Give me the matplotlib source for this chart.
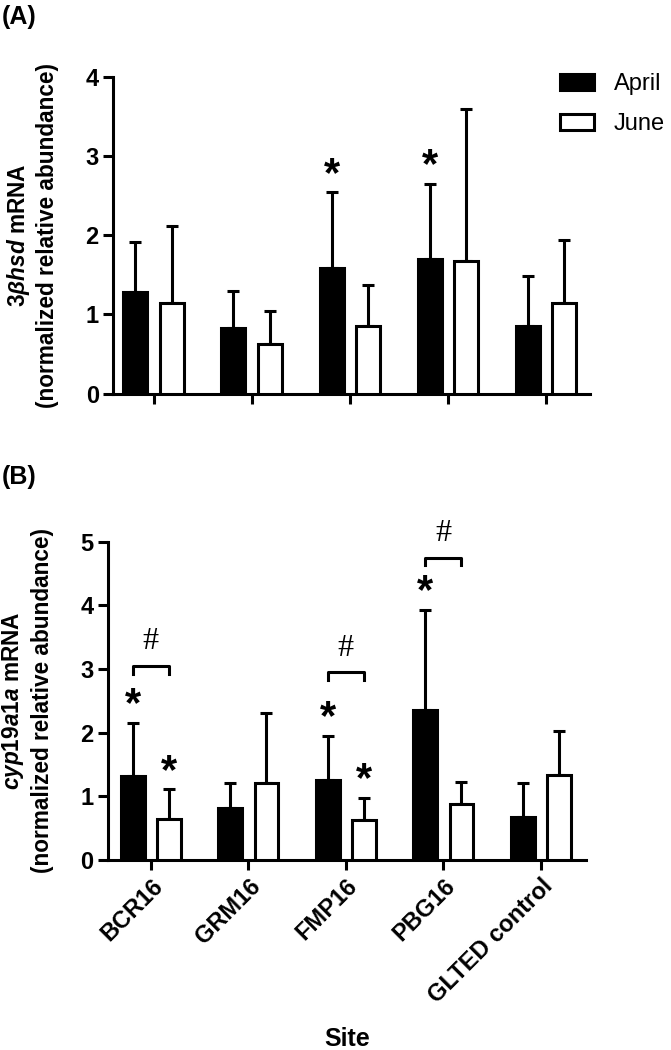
import matplotlib
matplotlib.use("Agg")
import matplotlib.pyplot as plt
import numpy as np

plt.rcParams['font.family'] = ['Liberation Sans', 'DejaVu Sans']
plt.rcParams['mathtext.fontset'] = 'custom'
plt.rcParams['mathtext.rm'] = 'Liberation Sans:bold'
plt.rcParams['mathtext.it'] = 'Liberation Sans:italic:bold'
plt.rcParams['mathtext.bf'] = 'Liberation Sans:bold'

sites = ['BCR16', 'GRM16', 'FMP16', 'PBG16', 'GLTED control']
series = ['April', 'June']

# panel A: 3bhsd
a_april = [1.28, 0.83, 1.58, 1.70, 0.85]
a_april_err = [0.63, 0.47, 0.96, 0.95, 0.64]
a_june = [1.15, 0.63, 0.86, 1.67, 1.15]
a_june_err = [0.96, 0.41, 0.51, 1.92, 0.79]
a_star_april = [False, False, True, True, False]
a_star_june = [False, False, False, False, False]

# panel B: cyp19a1a
b_april = [1.32, 0.81, 1.26, 2.35, 0.67]
b_april_err = [0.84, 0.40, 0.69, 1.58, 0.54]
b_june = [0.65, 1.21, 0.63, 0.875, 1.34]
b_june_err = [0.46, 1.10, 0.35, 0.355, 0.68]
b_star_april = [True, False, True, True, False]
b_star_june = [True, False, True, False, False]
b_hash_y = [3.05, None, 2.95, 4.75, None]

fig = plt.figure(figsize=(6.71, 10.5), dpi=100)
axA = fig.add_axes([0.169, 0.625, 0.710, 0.302])
axB = fig.add_axes([0.161, 0.181, 0.712, 0.303])

x = np.arange(len(sites))
off = 0.185
w = 0.245
lw = 2.2
fs = 17


def draw(ax, april, april_err, june, june_err, star_a, star_j, ymax):
    ekw = dict(elinewidth=lw, capthick=lw, ecolor='black')
    ax.bar(x - off, april, w, color='black', edgecolor='black', linewidth=lw,
           label=series[0], zorder=3)
    ax.errorbar(x - off, april, yerr=[np.zeros(len(x)), april_err], fmt='none',
                capsize=4.5, zorder=2, **ekw)
    ax.bar(x + off, june, w, color='white', edgecolor='black', linewidth=lw,
           label=series[1], zorder=3)
    ax.errorbar(x + off, june, yerr=[np.zeros(len(x)), june_err], fmt='none',
                capsize=4.5, zorder=2, **ekw)
    pad = 0.055 * ymax
    for i in range(len(x)):
        if star_a[i]:
            ax.text(x[i] - off, april[i] + april_err[i] + pad, '*', ha='center',
                    va='center', fontsize=30, fontweight='bold')
        if star_j[i]:
            ax.text(x[i] + off, june[i] + june_err[i] + pad, '*', ha='center',
                    va='center', fontsize=30, fontweight='bold')
    ax.set_ylim(0, ymax)
    ax.set_yticks(range(ymax + 1))
    for s in ['top', 'right']:
        ax.spines[s].set_visible(False)
    for s in ['left', 'bottom']:
        ax.spines[s].set_linewidth(lw)
    ax.tick_params(axis='both', width=lw, length=7, labelsize=fs)
    for t in ax.get_yticklabels():
        t.set_fontweight('bold')
    ax.set_xticks(x)


draw(axA, a_april, a_april_err, a_june, a_june_err, a_star_april, a_star_june, 4)
axA.set_xlim(-0.41, 4.45)
axA.set_xticklabels([])
axA.set_ylabel('$\\mathit{3βhsd}$ mRNA\n(normalized relative abundance)',
               fontsize=16.3, fontweight='bold', labelpad=19, linespacing=1.25)
axA.legend(loc='upper left', bbox_to_anchor=(0.937, 1.01), frameon=False,
           fontsize=17, handlelength=1.44, handleheight=0.68, labelspacing=0.75,
           handletextpad=0.85, borderaxespad=0, borderpad=0)

draw(axB, b_april, b_april_err, b_june, b_june_err, b_star_april, b_star_june, 5)
axB.set_xlim(-0.44, 4.46)
axB.set_xticklabels(sites, rotation=45, ha='right', rotation_mode='anchor',
                    fontweight='bold', fontsize=fs)
axB.set_ylabel('$\\mathit{cyp19a1a}$ mRNA\n(normalized relative abundance)',
               fontsize=16.3, fontweight='bold', labelpad=19, linespacing=1.25)
axB.set_xlabel('Site', fontsize=18, fontweight='bold', labelpad=14)
for i, hy in enumerate(b_hash_y):
    if hy is None:
        continue
    x0, x1 = x[i] - off, x[i] + off
    axB.plot([x0, x0, x1, x1], [hy - 0.12, hy, hy, hy - 0.12], color='black',
             lw=lw, clip_on=False)
    axB.text(x[i], hy + 0.38, '#', ha='center', va='center', fontsize=23,
             family='Liberation Serif')

fig.text(0.002, 0.995, '(A)', fontsize=18, fontweight='bold', va='top')
fig.text(0.002, 0.557, '(B)', fontsize=18, fontweight='bold', va='top')

fig.savefig('out.png', dpi=100)
